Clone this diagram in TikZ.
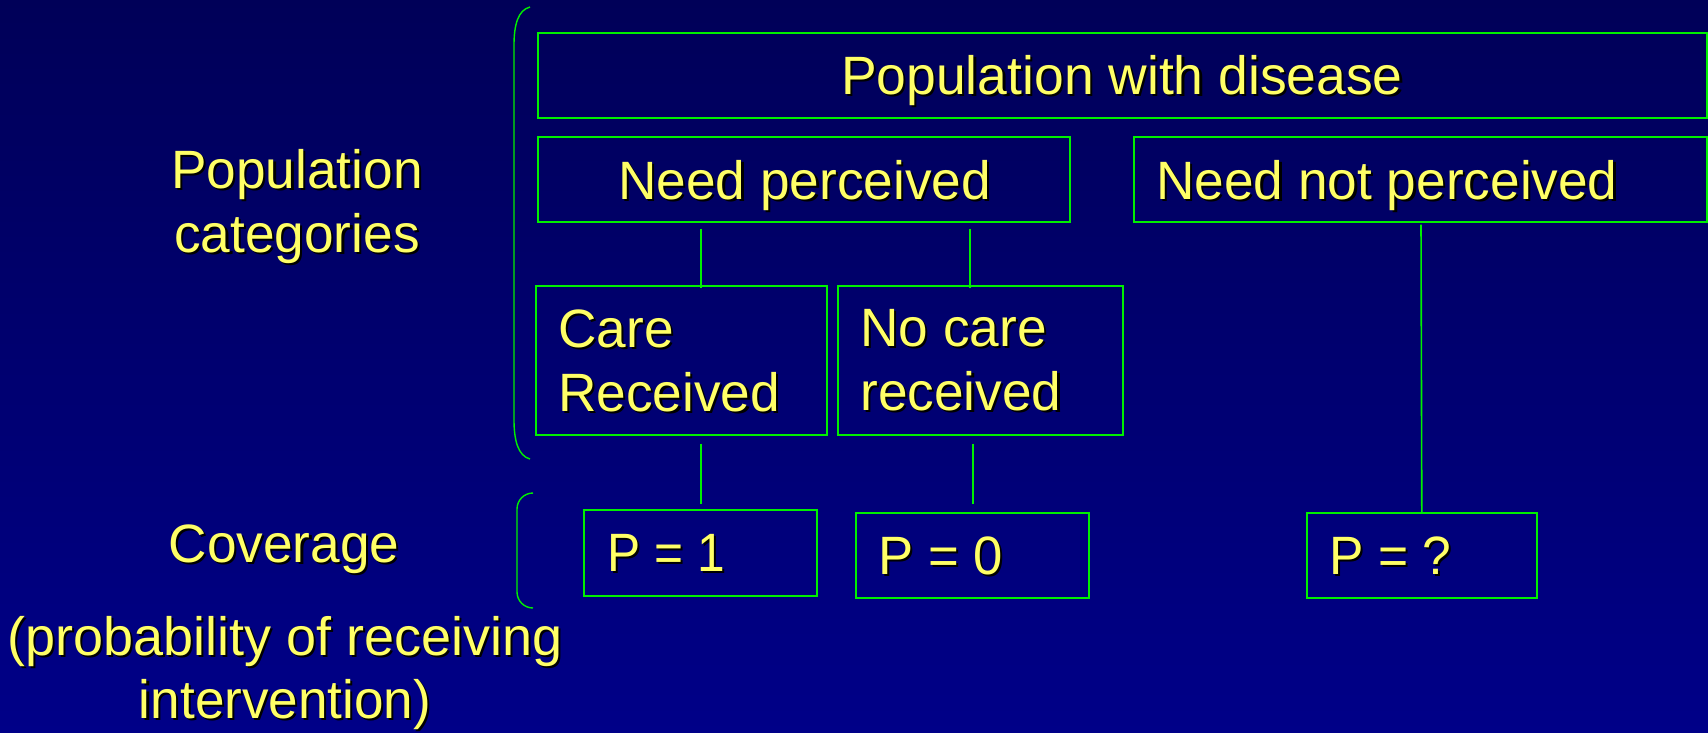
\documentclass[tikz,border=0pt]{standalone}
\usepackage{fontspec}
\setmainfont{Liberation Sans}
\usepackage{graphicx}
\usetikzlibrary{calc}

\definecolor{bgtop}{RGB}{0,0,88}
\definecolor{bgbot}{RGB}{0,0,136}
\definecolor{boxgreen}{RGB}{0,240,0}
\definecolor{txtyel}{RGB}{255,255,102}
% text with a black drop shadow, squeezed by #1
\newcommand{\shtxt}[2][0.985]{\scalebox{#1}[1]{\rlap{\kern1.1pt\raisebox{-1.1pt}{\color{black}#2}}#2}}

\begin{document}
\begin{tikzpicture}[x=0.5pt,y=-0.5pt,
	box/.style={draw=boxgreen,line width=0.8pt,inner sep=0pt,anchor=north west},
	lbl/.style={text=txtyel,inner sep=0pt,font=\fontsize{27}{32}\selectfont},
	link/.style={draw=boxgreen,line width=0.8pt},
	brace/.style={draw=boxgreen,line width=0.7pt}]
					%BACKGROUND
					\shade[top color=bgtop,bottom color=bgbot] (0,0) rectangle (1708,733);
					\useasboundingbox (0,0) rectangle (1708,733);
					
					%LEFT LABELS
					\node[lbl,align=center,anchor=north] (catT) at (297,149) {\shtxt{Population}\\\shtxt{categories}};
					\node[lbl,anchor=north] (covT) at (284,524) {\shtxt{Coverage}};
					\node[lbl,align=center,anchor=north,font=\fontsize{27}{31.5}\selectfont] (probT) at (285,616) {\shtxt[1.0]{(probability of receiving}\\\shtxt[0.983]{intervention)}};
					
					%BRACES
					\draw[brace] (530,7) .. controls (518,10) and (514,25) .. (514,45) -- (514,420) .. controls (514,440) and (518,456) .. (530,459);
					\draw[brace,rounded corners=8pt] (533,493) -- (517,493) -- (517,608) -- (533,608);
					
					%CATEGORY BOXES
					\node[box,minimum width=584.5pt,minimum height=42.5pt] (disease) at (537,32) {};
					\node[box,minimum width=266pt,minimum height=42.5pt] (need) at (537,136) {};
					\node[box,minimum width=286.5pt,minimum height=42.5pt] (notneed) at (1133,136) {};
					\node[box,minimum width=145.5pt,minimum height=74.5pt] (care) at (535,285) {};
					\node[box,minimum width=142.5pt,minimum height=74.5pt] (nocare) at (837,285) {};
					\node[lbl,anchor=north] (diseaseT) at (1122,55) {\shtxt[0.99]{Population with disease}};
					\node[lbl,anchor=north west] (needT) at (618,160) {\shtxt{Need perceived}};
					\node[lbl,anchor=north west] (notneedT) at (1156,160) {\shtxt{Need not perceived}};
					\node[lbl,align=left,anchor=north west] (careT) at (558,309) {\shtxt{Care}\\\shtxt{Received}};
					\node[lbl,align=left,anchor=north west] (nocareT) at (860,309) {\shtxt{No care}\\\shtxt{received}};
					
					%COVERAGE BOXES
					\node[box,minimum width=116.5pt,minimum height=43pt] (pone) at (583,509) {};
					\node[box,minimum width=116.5pt,minimum height=42.5pt] (pzero) at (855,512) {};
					\node[box,minimum width=115pt,minimum height=42.5pt] (pquery) at (1306,512) {};
					\node[lbl,anchor=north west] (poneT) at (607,534) {\shtxt[0.92]{P = 1}};
					\node[lbl,anchor=north west] (pzeroT) at (878,536) {\shtxt[0.975]{P = 0}};
					\node[lbl,anchor=north west] (pqueryT) at (1329,536) {\shtxt[0.955]{P = ?}};
					
					%LINKS
					\draw[link] ($(need.south west)+(164,6)$) -- ($(care.north west)+(166,3)$);
					\draw[link] ($(need.south west)+(433,6)$) -- ($(nocare.north west)+(133,3)$);
					\draw[link] ($(care.south west)+(166,8)$) -- ($(pone.north west)+(118,-5)$);
					\draw[link] ($(nocare.south west)+(136,8)$) -- ($(pzero.north west)+(118,-8)$);
					\draw[link] ($(notneed.south west)+(288,2)$) -- (pquery.north);
					
				  \end{tikzpicture}
\end{document}
